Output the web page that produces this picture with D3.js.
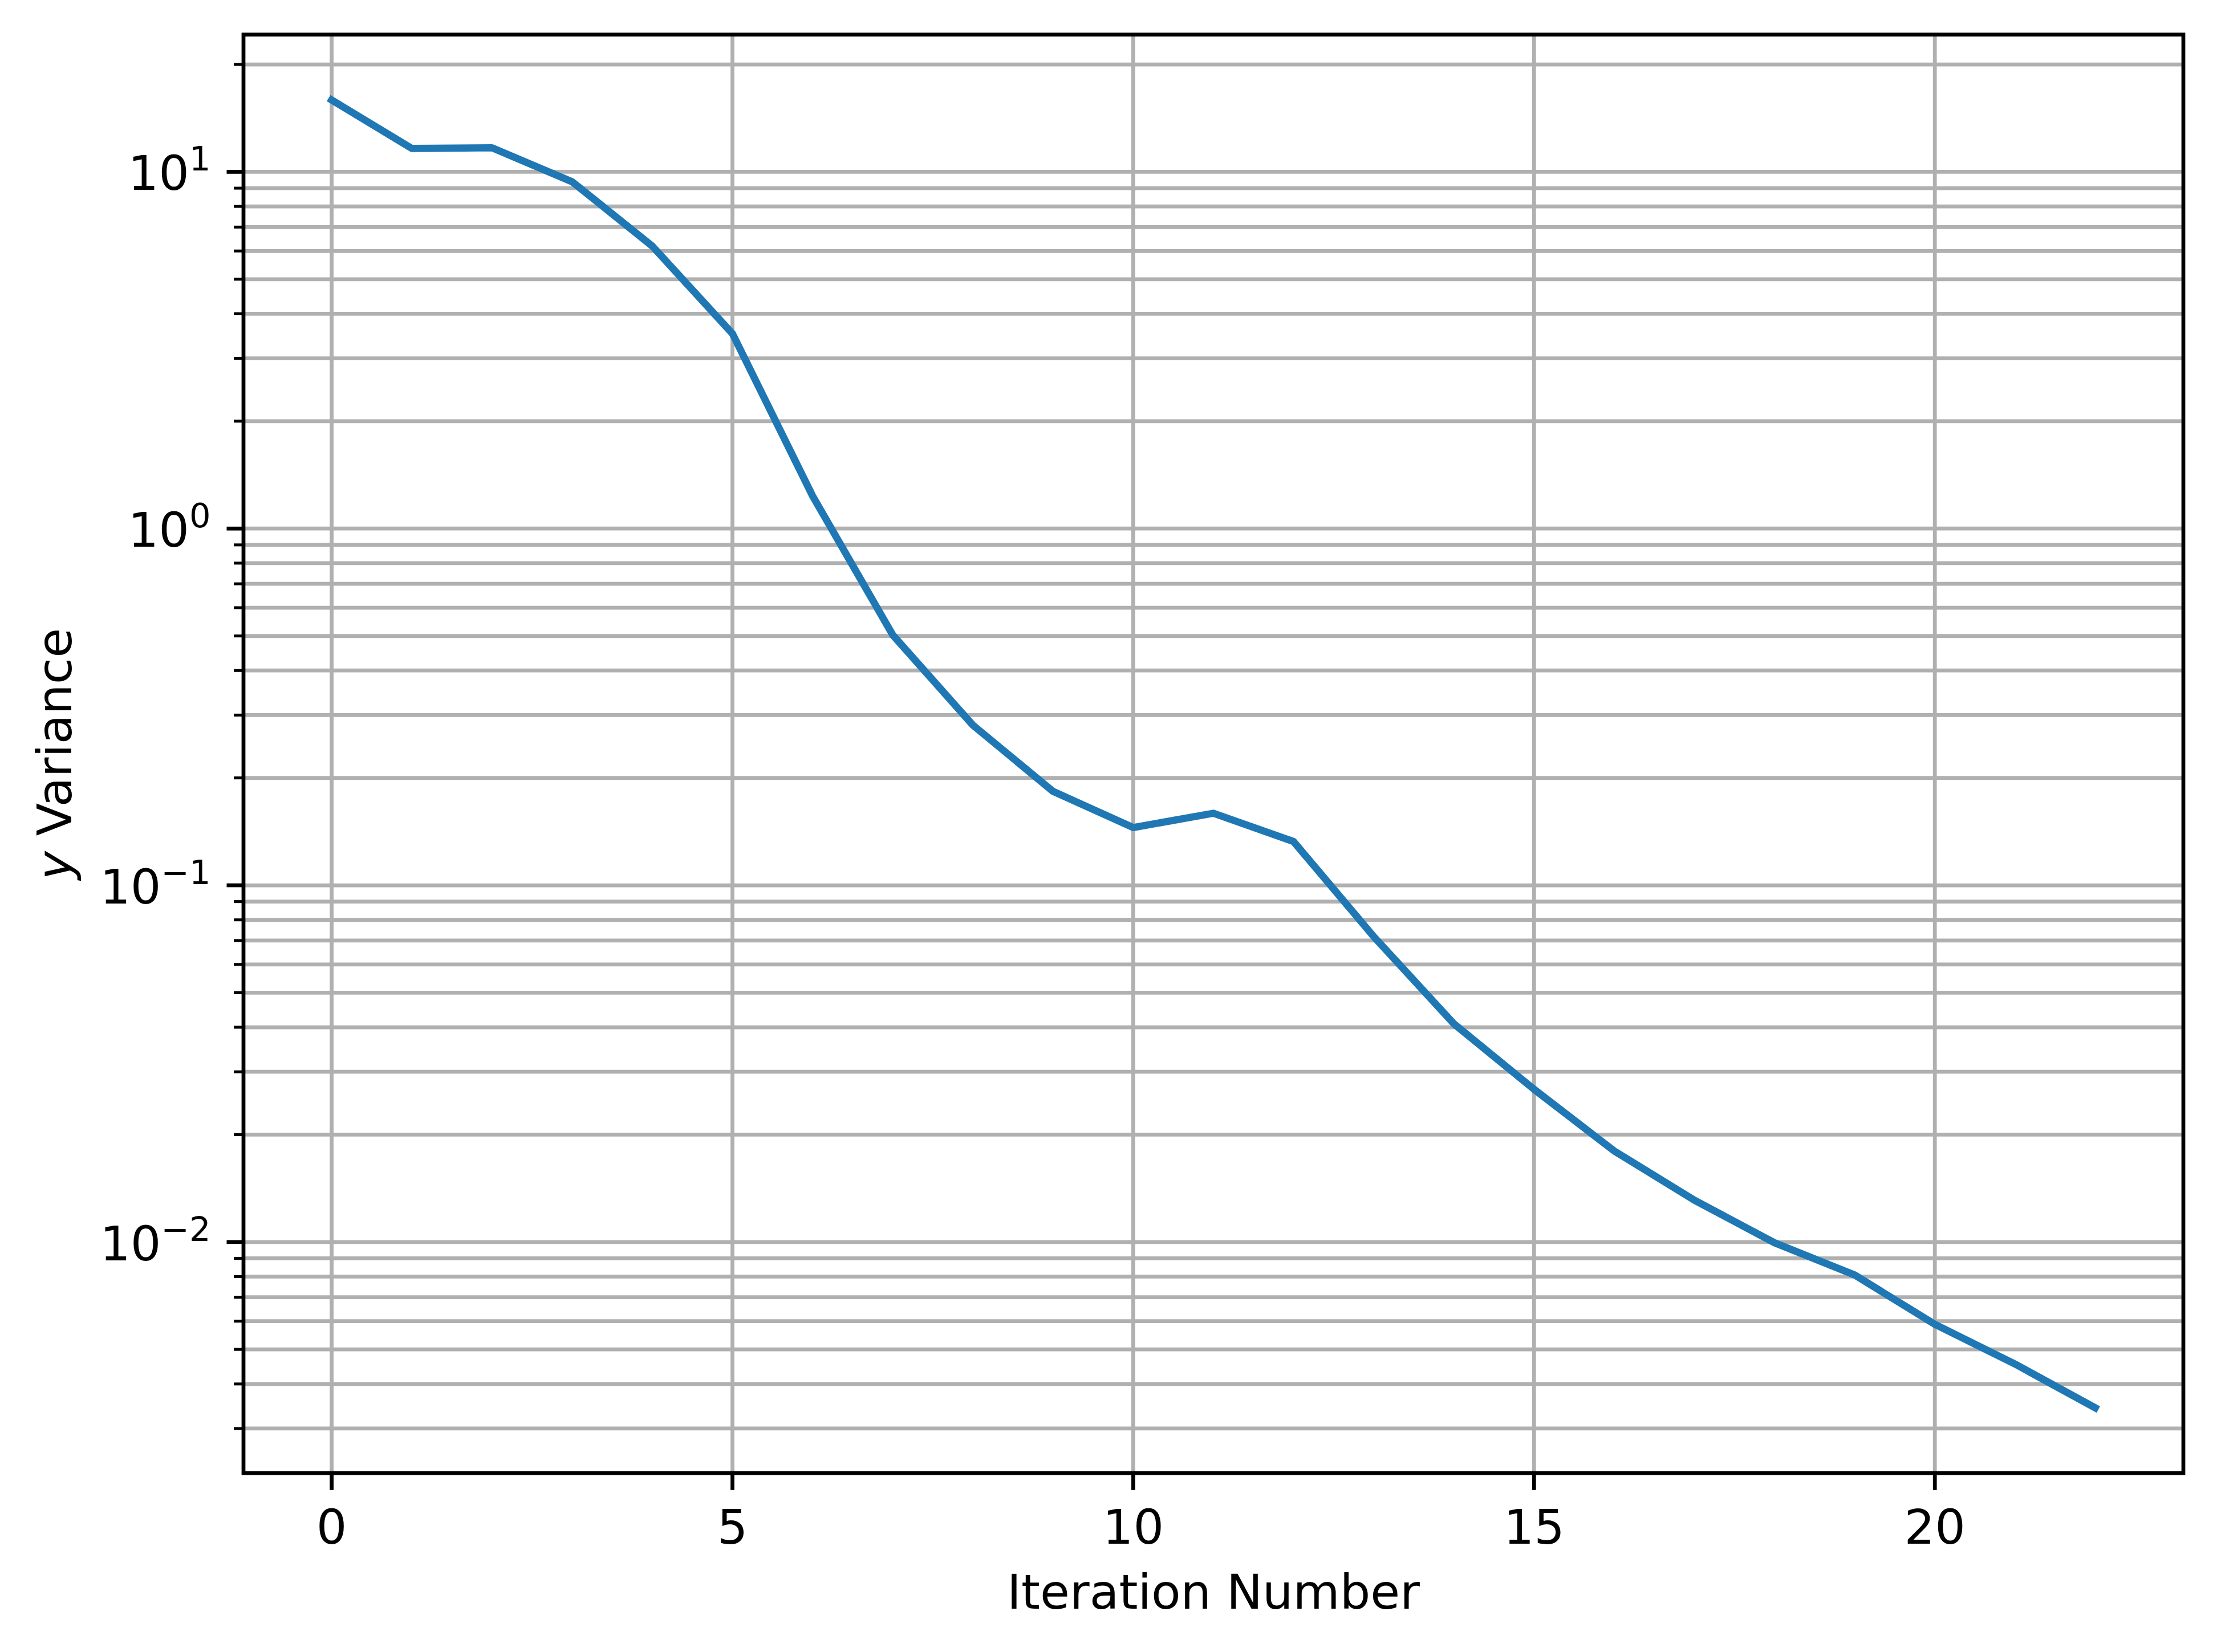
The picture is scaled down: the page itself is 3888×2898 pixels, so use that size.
<!DOCTYPE html>
<html>
<head>
<meta charset="utf-8">
<script src="https://cdn.jsdelivr.net/npm/d3@7"></script>
<style>
  html, body { margin: 0; padding: 0; background: #ffffff; }
  svg { display: block; }
  text { font-family: "DejaVu Sans", sans-serif; fill: #000; }
</style>
</head>
<body>
<svg id="chart" width="3888" height="2898"></svg>
<script>
// ---- data ----
const iterations = [0,1,2,3,4,5,6,7,8,9,10,11,12,13,14,15,16,17,18,19,20,21,22];
const yVariance = [15.9, 11.63, 11.68, 9.38, 6.19, 3.52, 1.234, 0.503, 0.281, 0.1833,
                   0.1452, 0.1592, 0.1326, 0.0718, 0.0409, 0.0268, 0.0180, 0.0131,
                   0.00995, 0.00808, 0.00588, 0.00455, 0.00343];
const xTickValues = [0, 5, 10, 15, 20];
const xTickLabels = ["0", "5", "10", "15", "20"];
const yTickExponents = [-2, -1, 0, 1];
const yTickLabels = ["10", "10", "10", "10"];
const xAxisTitle = "Iteration Number";
const yAxisTitleItalic = "y";
const yAxisTitleRest = " Variance";

// ---- layout ----
const W = 3888, H = 2898;
const L = 427, R = 3829, T = 60.7, B = 2584.3;
const fontPx = 84.4;
const supPx = 59;
const spineW = 6.75, gridW = 6.75, lineW = 12.66;
const majLen = 29.5, minLen = 16.9, majTickW = 6.75, minTickW = 5.06;
const pad = 29.5;

const svg = d3.select("#chart");
svg.append("rect").attr("width", W).attr("height", H).attr("fill", "#ffffff");

// x scale with 5% margins like matplotlib
const xExt = d3.extent(iterations);
const xPad = 0.05 * (xExt[1] - xExt[0]);
const x = d3.scaleLinear().domain([xExt[0] - xPad, xExt[1] + xPad]).range([L, R]);

// y log scale with 5% margins in log space
const lo = Math.log10(d3.min(yVariance)), hi = Math.log10(d3.max(yVariance));
const lp = 0.05 * (hi - lo);
const y = d3.scaleLog().domain([Math.pow(10, lo - lp), Math.pow(10, hi + lp)]).range([B, T]);

// major and minor y tick positions
const yMajor = yTickExponents.map(e => Math.pow(10, e));
const yMinor = [];
for (let e = -3; e <= 1; e++) {
  for (let k = 2; k <= 9; k++) {
    const v = k * Math.pow(10, e);
    if (v >= y.domain()[0] && v <= y.domain()[1]) yMinor.push(v);
  }
}

// ---- grid ----
const grid = svg.append("g").attr("stroke", "#b0b0b0").attr("stroke-width", gridW);
grid.selectAll("line.gx").data(xTickValues).join("line")
  .attr("x1", d => x(d)).attr("x2", d => x(d)).attr("y1", T).attr("y2", B);
grid.selectAll("line.gy").data(yMajor.concat(yMinor)).join("line")
  .attr("x1", L).attr("x2", R).attr("y1", d => y(d)).attr("y2", d => y(d));

// ---- data line ----
svg.append("clipPath").attr("id", "clip").append("rect")
  .attr("x", L).attr("y", T).attr("width", R - L).attr("height", B - T);
const line = d3.line().x((d, i) => x(iterations[i])).y(d => y(d));
svg.append("path")
  .datum(yVariance)
  .attr("clip-path", "url(#clip)")
  .attr("d", line)
  .attr("fill", "none")
  .attr("stroke", "#1f77b4")
  .attr("stroke-width", lineW)
  .attr("stroke-linecap", "square")
  .attr("stroke-linejoin", "round");

// ---- axes (ticks) ----
const xAxis = d3.axisBottom(x).tickValues(xTickValues)
  .tickFormat((d, i) => xTickLabels[i]).tickSize(majLen).tickPadding(pad).offset(0);
const gx = svg.append("g").attr("transform", `translate(0,${B})`).call(xAxis);
gx.select(".domain").remove();
gx.selectAll(".tick line").attr("stroke", "#000").attr("stroke-width", majTickW);
gx.selectAll(".tick text")
  .attr("font-family", "DejaVu Sans").attr("font-size", fontPx)
  .attr("dy", null).attr("y", 123.7).attr("fill", "#000");

const yMinorAxis = d3.axisLeft(y).tickValues(yMinor).tickFormat("").tickSize(minLen).offset(0);
const gyMinor = svg.append("g").attr("transform", `translate(${L},0)`).call(yMinorAxis);
gyMinor.select(".domain").remove();
gyMinor.selectAll(".tick line").attr("stroke", "#000").attr("stroke-width", minTickW);

const yAxis = d3.axisLeft(y).tickValues(yMajor).tickFormat("").tickSize(majLen).tickPadding(pad).offset(0);
const gy = svg.append("g").attr("transform", `translate(${L},0)`).call(yAxis);
gy.select(".domain").remove();
gy.selectAll(".tick line").attr("stroke", "#000").attr("stroke-width", majTickW);
gy.selectAll(".tick text").each(function(d, i) {
  const t = d3.select(this);
  t.text(null)
    .attr("font-family", "DejaVu Sans").attr("font-size", fontPx)
    .attr("text-anchor", "end").attr("x", -(majLen + pad) + 1.5)
    .attr("dy", null).attr("y", 32).attr("fill", "#000");
  t.append("tspan").text(yTickLabels[i]);
  const e = yTickExponents[i];
  const expStr = e < 0 ? "\u2212" + Math.abs(e) : String(e);
  t.append("tspan").attr("font-size", supPx).attr("dy", -34).text(expStr);
});

// ---- spines ----
svg.append("rect")
  .attr("x", L).attr("y", T).attr("width", R - L).attr("height", B - T)
  .attr("fill", "none").attr("stroke", "#000").attr("stroke-width", spineW)
  .attr("stroke-linejoin", "miter");

// ---- axis titles ----
svg.append("text")
  .attr("x", (L + R) / 2).attr("y", 2822)
  .attr("text-anchor", "middle").attr("font-size", fontPx)
  .text(xAxisTitle);

const yt = svg.append("text")
  .attr("transform", `translate(125,${(T + B) / 2}) rotate(-90)`)
  .attr("text-anchor", "middle").attr("font-size", fontPx);
yt.append("tspan").attr("font-style", "italic").text(yAxisTitleItalic);
yt.append("tspan").text(yAxisTitleRest);
</script>
</body>
</html>
